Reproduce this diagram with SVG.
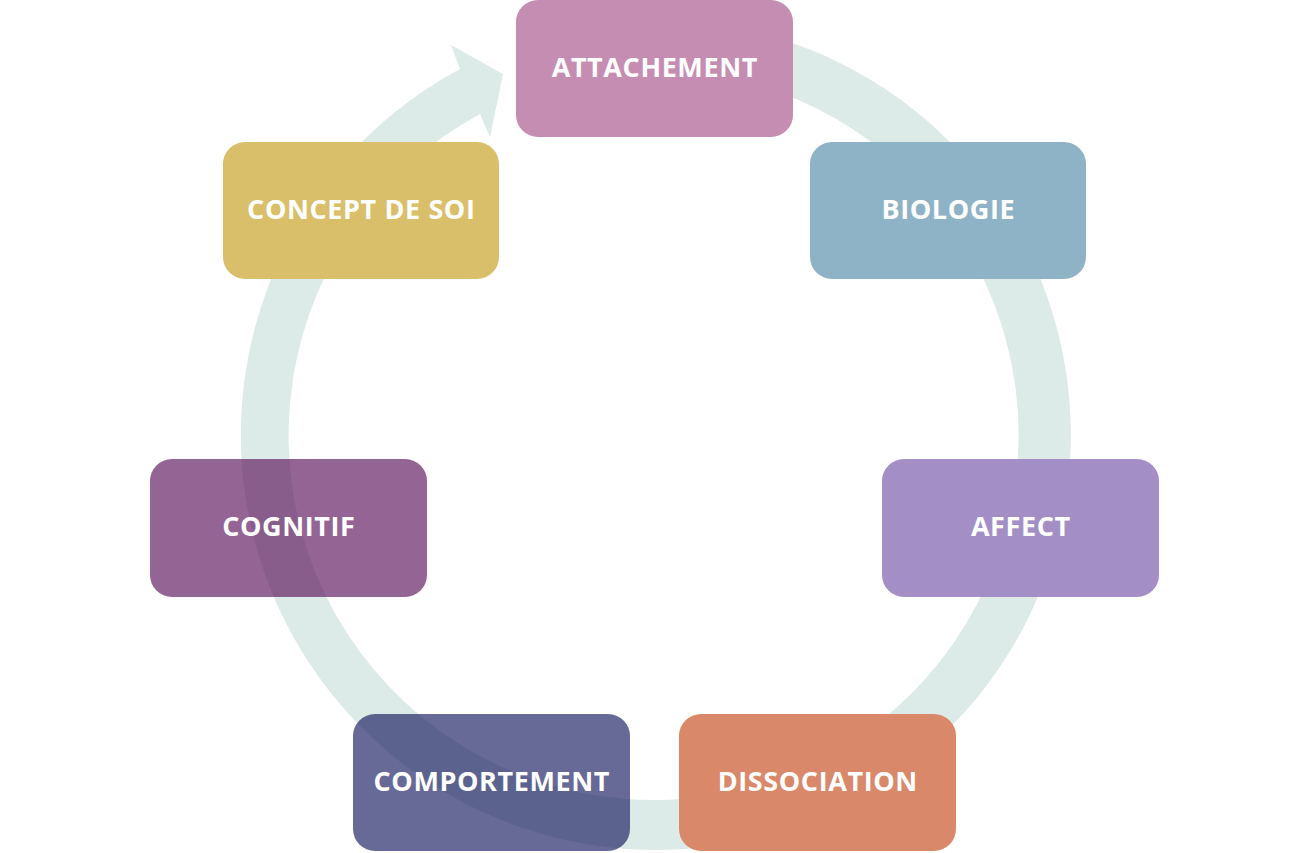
<svg xmlns="http://www.w3.org/2000/svg" width="1309" height="853" viewBox="0 0 1309 853">
<style>
.box{rx:22px;ry:22px}
.lbl{font-family:"Open Sans","Liberation Sans",sans-serif;font-weight:700;font-size:27px;letter-spacing:0.6px;fill:#ffffff;text-anchor:middle}
</style>
<rect width="1309" height="853" fill="#ffffff"/>
<g id="connectors">
<path id="cycle" fill="#DCEBE7" d="M618.33,21.58 A415,415 0 1 1 460,69 L451,45 L503,74 L490,137 L480,114 A365,365 0 1 0 622.69,71.39 Z"/>
</g>
<g id="attachement"><rect class="box" x="516" y="0" width="277" height="137" fill="#C68DB3"/><text class="lbl" x="654.8" y="77">ATTACHEMENT</text></g>
<g id="biologie"><rect class="box" x="810" y="142" width="276" height="137" fill="#8FB3C6"/><text class="lbl" x="948.3" y="219">BIOLOGIE</text></g>
<g id="affect"><rect class="box" x="882" y="459" width="277" height="138" fill="#A38FC6"/><text class="lbl" x="1020.8" y="536">AFFECT</text></g>
<g id="dissociation"><rect class="box" x="679" y="714" width="277" height="137" fill="#D9886A"/><text class="lbl" x="817.8" y="791">DISSOCIATION</text></g>
<g id="comportement"><rect class="box" x="353" y="714" width="277" height="137" fill="#16195E" fill-opacity="0.65"/><text class="lbl" x="491.8" y="791">COMPORTEMENT</text></g>
<g id="cognitif"><rect class="box" x="150" y="459" width="277" height="138" fill="#5B115B" fill-opacity="0.65"/><text class="lbl" x="288.8" y="536">COGNITIF</text></g>
<g id="concept-de-soi"><rect class="box" x="223" y="142" width="276" height="137" fill="#D9BF6A"/><text class="lbl" x="361.3" y="219">CONCEPT DE SOI</text></g>
</svg>
